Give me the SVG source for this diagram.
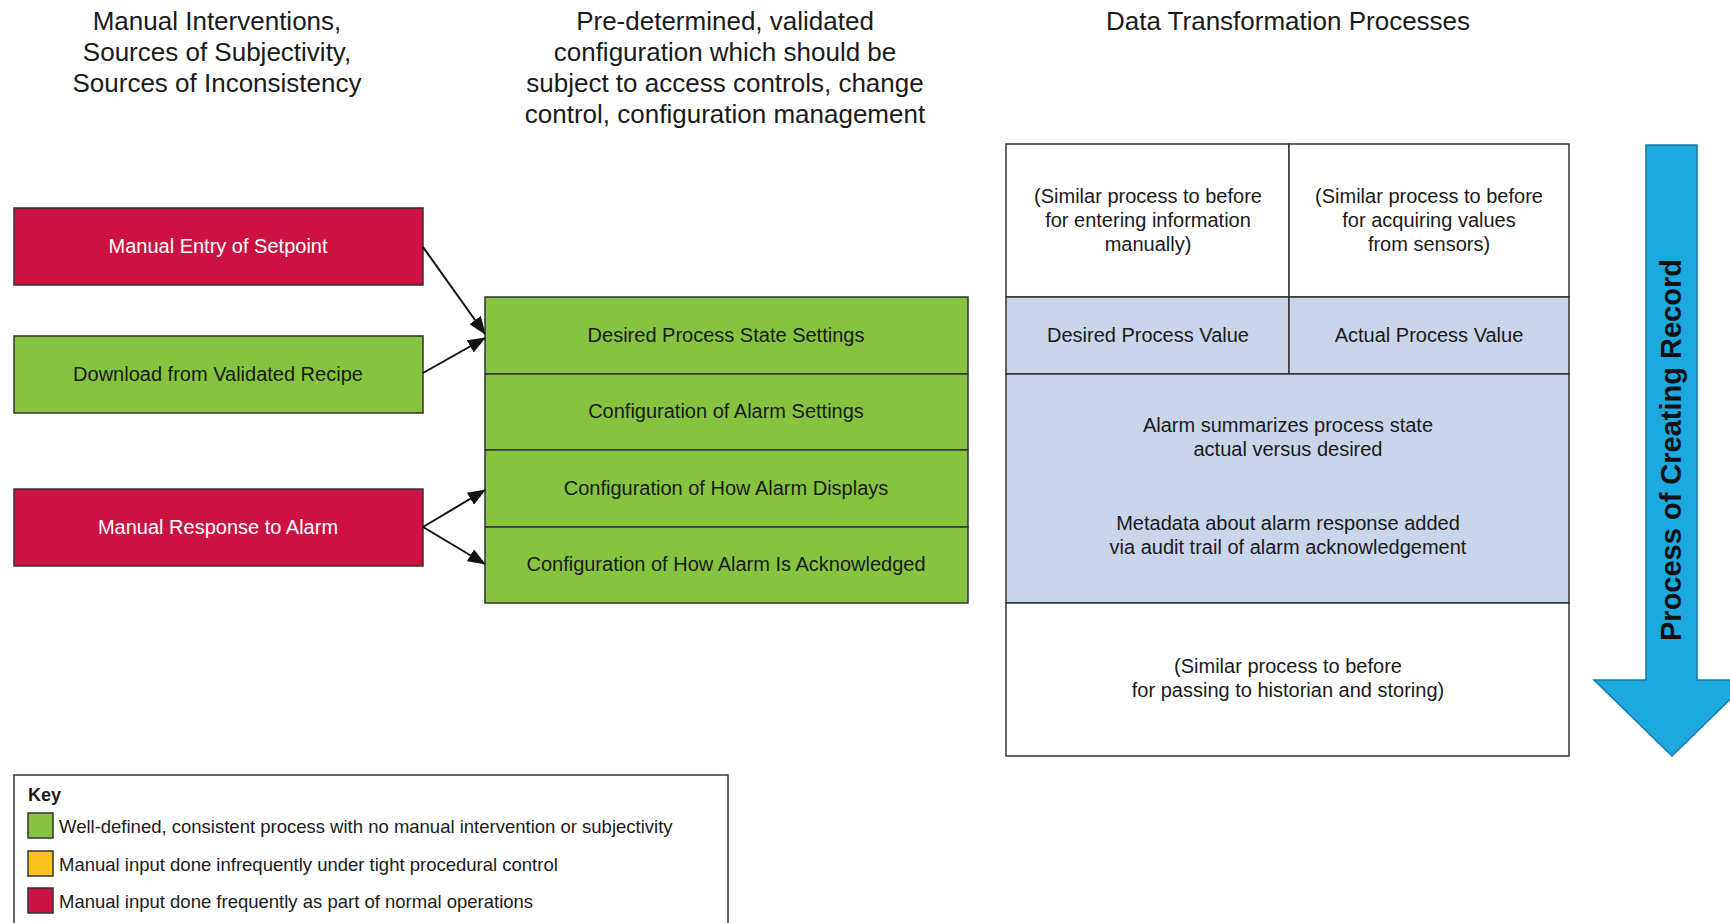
<svg xmlns="http://www.w3.org/2000/svg" width="1730" height="923" viewBox="0 0 1730 923">
<style>
text{font-family:"Liberation Sans",Arial,sans-serif;fill:#1a1a1a}
.hdr{font-size:26px;text-anchor:middle}
.bx{font-size:20px;text-anchor:middle}
.wt{fill:#ffffff}
.red{fill:#cc1242;stroke:#333;stroke-width:1.5}
.grn{fill:#86c440;stroke:#333;stroke-width:1.5}
.blu{fill:#c9d5ea;stroke:#333;stroke-width:1.5}
.wht{fill:#ffffff;stroke:#333;stroke-width:1.5}
.conn{stroke:#111;stroke-width:2;fill:none;marker-end:url(#ah)}
.key{font-size:18.5px}
</style>
<defs>
<marker id="ah" markerWidth="18" markerHeight="14" refX="17" refY="7" orient="auto" markerUnits="userSpaceOnUse" viewBox="0 0 18 14">
<path d="M0,0 L18,7 L0,14 z" fill="#111"/>
</marker>
</defs>
<rect width="1730" height="923" fill="#ffffff"/>

<g id="headers">
<text class="hdr" x="217" y="30">Manual Interventions,</text>
<text class="hdr" x="217" y="61">Sources of Subjectivity,</text>
<text class="hdr" x="217" y="92">Sources of Inconsistency</text>
<text class="hdr" x="725" y="30">Pre-determined, validated</text>
<text class="hdr" x="725" y="61">configuration which should be</text>
<text class="hdr" x="725" y="92">subject to access controls, change</text>
<text class="hdr" x="725" y="123">control, configuration management</text>
<text class="hdr" x="1288" y="30">Data Transformation Processes</text>
</g>

<g id="n-manual-entry">
<rect class="red" x="14" y="208" width="409" height="77"/>
<text class="bx wt" x="218" y="253">Manual Entry of Setpoint</text>
</g>
<g id="n-download">
<rect class="grn" x="14" y="336" width="409" height="77"/>
<text class="bx" x="218" y="381">Download from Validated Recipe</text>
</g>
<g id="n-manual-response">
<rect class="red" x="14" y="489" width="409" height="77"/>
<text class="bx wt" x="218" y="534">Manual Response to Alarm</text>
</g>

<g id="n-config">
<rect class="grn" x="485" y="297" width="483" height="77"/>
<text class="bx" x="726" y="342">Desired Process State Settings</text>
<rect class="grn" x="485" y="374" width="483" height="76"/>
<text class="bx" x="726" y="418">Configuration of Alarm Settings</text>
<rect class="grn" x="485" y="450" width="483" height="77"/>
<text class="bx" x="726" y="495">Configuration of How Alarm Displays</text>
<rect class="grn" x="485" y="527" width="483" height="76"/>
<text class="bx" x="726" y="571">Configuration of How Alarm Is Acknowledged</text>
</g>

<g id="n-transform">
<rect class="wht" x="1006" y="144" width="283" height="153"/>
<rect class="wht" x="1289" y="144" width="280" height="153"/>
<text class="bx" x="1148" y="203">(Similar process to before</text>
<text class="bx" x="1148" y="227">for entering information</text>
<text class="bx" x="1148" y="251">manually)</text>
<text class="bx" x="1429" y="203">(Similar process to before</text>
<text class="bx" x="1429" y="227">for acquiring values</text>
<text class="bx" x="1429" y="251">from sensors)</text>
<rect class="blu" x="1006" y="297" width="283" height="77"/>
<rect class="blu" x="1289" y="297" width="280" height="77"/>
<text class="bx" x="1148" y="342">Desired Process Value</text>
<text class="bx" x="1429" y="342">Actual Process Value</text>
<rect class="blu" x="1006" y="374" width="563" height="229"/>
<text class="bx" x="1288" y="432">Alarm summarizes process state</text>
<text class="bx" x="1288" y="456">actual versus desired</text>
<text class="bx" x="1288" y="530">Metadata about alarm response added</text>
<text class="bx" x="1288" y="554">via audit trail of alarm acknowledgement</text>
<rect class="wht" x="1006" y="603" width="563" height="153"/>
<text class="bx" x="1288" y="673">(Similar process to before</text>
<text class="bx" x="1288" y="697">for passing to historian and storing)</text>
</g>

<g id="n-process-arrow">
<path d="M1646,145 L1697,145 L1697,680 L1750,680 L1672,756 L1594,680 L1646,680 Z" fill="#1ba9df" stroke="#1479a8" stroke-width="1.5"/>
<text x="1681" y="450" transform="rotate(-90 1681 450)" text-anchor="middle" style="font-size:29px;font-weight:bold;fill:#111">Process of Creating Record</text>
</g>

<g id="connectors">
<line class="conn" x1="423" y1="247" x2="485" y2="334"/>
<line class="conn" x1="423" y1="373" x2="485" y2="338"/>
<line class="conn" x1="423" y1="527" x2="485" y2="490"/>
<line class="conn" x1="423" y1="527" x2="485" y2="564"/>
</g>

<g id="key">
<rect x="14" y="775" width="714" height="160" fill="#ffffff" stroke="#333" stroke-width="1.5"/>
<text x="28" y="801" style="font-size:18px;font-weight:bold">Key</text>
<rect x="28" y="813" width="25" height="25" fill="#86c440" stroke="#333" stroke-width="1.5"/>
<text class="key" x="59" y="833">Well-defined, consistent process with no manual intervention or subjectivity</text>
<rect x="28" y="851" width="25" height="25" fill="#f9c21e" stroke="#333" stroke-width="1.5"/>
<text class="key" x="59" y="871">Manual input done infrequently under tight procedural control</text>
<rect x="28" y="888" width="25" height="25" fill="#cc1242" stroke="#333" stroke-width="1.5"/>
<text class="key" x="59" y="908">Manual input done frequently as part of normal operations</text>
</g>
</svg>
